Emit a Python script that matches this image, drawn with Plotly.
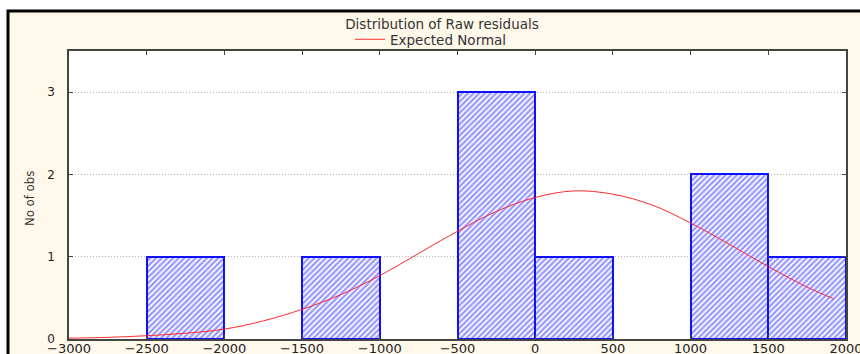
import plotly.graph_objects as go

# Histogram of raw residuals (bin centres, bin width 500)
bin_centers = [-2250, -1250, -250, 250, 1250, 1750]
counts = [1, 1, 3, 1, 2, 1]
bin_width = 500

# Expected normal curve, sampled along the residual axis
norm_x = [-3000, -2750, -2500, -2250, -2000, -1750, -1500, -1250, -1000, -750,
          -500, -250, 0, 250, 500, 750, 1000, 1250, 1500, 1750, 1920]
norm_y = [0.01, 0.02, 0.04, 0.07, 0.12, 0.22, 0.36, 0.54, 0.77, 1.04,
          1.31, 1.55, 1.72, 1.80, 1.76, 1.63, 1.41, 1.15, 0.88, 0.63, 0.49]

x_ticks = [-3000, -2500, -2000, -1500, -1000, -500, 0, 500, 1000, 1500, 2000]
y_ticks = [0, 1, 2, 3]

W, H = 860, 354
ML, MR, MT, MB = 69, 14, 51, 15
PW, PH = W - ML - MR, H - MT - MB

FONT = "DejaVu Sans"

fig = go.Figure()
fig.add_trace(go.Bar(
    x=bin_centers, y=counts, width=[bin_width] * len(counts),
    marker=dict(color="white",
                pattern=dict(shape="/", fgcolor="#3030ff", bgcolor="white",
                             size=4, solidity=0.55),
                line=dict(color="#1010ff", width=2)),
    showlegend=False, hoverinfo="x+y",
))
fig.add_trace(go.Scatter(
    x=norm_x, y=norm_y, mode="lines", name="Expected Normal",
    line=dict(color="#ff2a2a", width=1, shape="spline"),
))

axis_common = dict(showline=True, linecolor="#444", linewidth=1.5, mirror="ticks",
                   ticks="inside", ticklen=4, tickcolor="#444", zeroline=False,
                   automargin=False, ticklabeloverflow="allow")

fig.update_layout(
    width=W, height=H,
    margin=dict(l=ML, r=MR, t=MT, b=MB, pad=0, autoexpand=False),
    paper_bgcolor="white", plot_bgcolor="white",
    bargap=0,
    title=dict(text="Distribution of Raw residuals", x=442 / W, xanchor="center",
               y=1 - 24 / H, yanchor="middle", yref="container", automargin=False,
               font=dict(family=FONT, size=13.5, color="#333")),
    legend=dict(orientation="h", x=(350 - ML) / PW, xanchor="left",
                y=(H - MB - 39.5) / PH, yanchor="middle", bgcolor="rgba(0,0,0,0)",
                font=dict(family=FONT, size=13.5, color="#333")),
    xaxis=dict(range=[-3000, 2000], tickvals=x_ticks, showgrid=False,
               ticklabelstandoff=-3,
               tickfont=dict(family=FONT, size=13, color="#222"), **axis_common),
    yaxis=dict(range=[0, 3.5], tickvals=y_ticks, showgrid=True,
               gridcolor="#b5b5b5", griddash="1px,2px", gridwidth=1,
               ticklabelstandoff=10,
               tickfont=dict(family=FONT, size=12, color="#222"), **axis_common),
    shapes=[
        # cream outer panel with black frame
        dict(type="rect", xref="paper", yref="paper", layer="below",
             x0=(8 - ML) / PW, x1=1.2, y0=-0.3, y1=(H - MB - 11) / PH,
             fillcolor="#fff9ec", line=dict(color="black", width=3)),
        # white plotting area
        dict(type="rect", xref="paper", yref="paper", layer="below",
             x0=0, x1=1, y0=0, y1=1, fillcolor="white", line=dict(width=0)),
    ],
    annotations=[
        dict(text="No of obs", textangle=-90, xref="paper", yref="paper",
             x=(29 - ML) / PW, y=(H - MB - 199) / PH, xanchor="center",
             yanchor="middle", showarrow=False,
             font=dict(family="DejaVu Sans Condensed", size=13, color="#333")),
    ],
)

fig.write_html("out.html")
